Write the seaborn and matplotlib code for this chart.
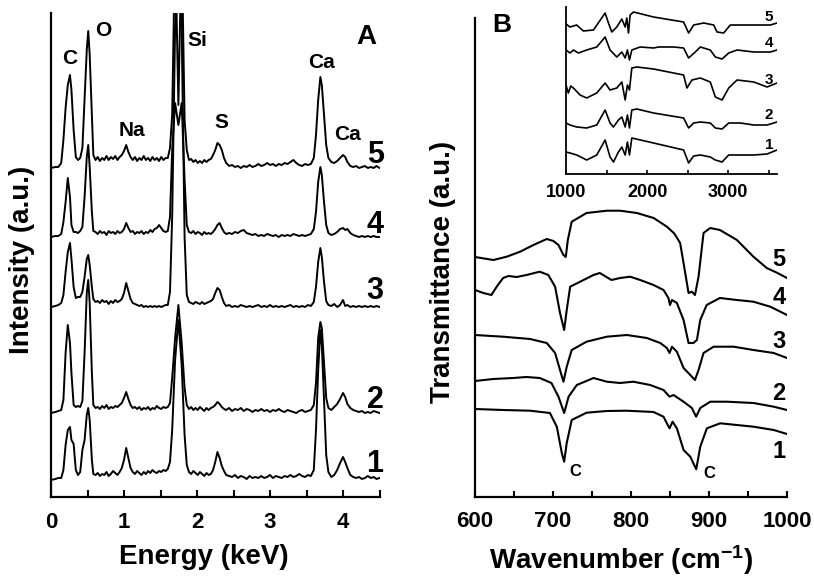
import matplotlib
matplotlib.use("Agg")
import matplotlib.pyplot as plt
from matplotlib.ticker import FixedLocator, MultipleLocator
import numpy as np
import pandas as pd
import seaborn as sns

# ---------------- Panel A : EDS spectra ----------------
ENERGY_KEV = [0.00, 0.06, 0.10, 0.14, 0.17, 0.20, 0.23, 0.26, 0.28, 0.31,
              0.34, 0.37, 0.40, 0.43, 0.46, 0.49, 0.51, 0.53, 0.56, 0.58,
              0.61, 0.64, 0.67, 0.70, 0.73, 0.76, 0.79, 0.82, 0.85, 0.88,
              0.91, 0.94, 0.97, 1.00, 1.03, 1.06, 1.09, 1.12, 1.15, 1.18,
              1.21, 1.24, 1.27, 1.30, 1.33, 1.36, 1.39, 1.42, 1.45, 1.48,
              1.51, 1.54, 1.57, 1.60, 1.63, 1.66, 1.70, 1.745, 1.79, 1.83,
              1.86, 1.89, 1.92, 1.95, 1.98, 2.01, 2.04, 2.07, 2.10, 2.13,
              2.16, 2.19, 2.22, 2.25, 2.28, 2.31, 2.34, 2.37, 2.40, 2.44,
              2.48, 2.52, 2.56, 2.60, 2.64, 2.68, 2.72, 2.76, 2.80, 2.84,
              2.88, 2.92, 2.96, 3.00, 3.04, 3.08, 3.12, 3.16, 3.20, 3.24,
              3.28, 3.32, 3.36, 3.40, 3.44, 3.48, 3.52, 3.56, 3.60, 3.63,
              3.66, 3.69, 3.71, 3.74, 3.77, 3.80, 3.84, 3.88, 3.92, 3.96,
              4.00, 4.03, 4.06, 4.10, 4.14, 4.18, 4.22, 4.26, 4.30, 4.34,
              4.38, 4.42, 4.46, 4.50]

EDS_1 = [0, 1, 2, 2, 10, 35, 50, 53, 40, 36,
         10, 5, 8, 30, 40, 65, 72, 60, 20, 6,
         5, 7, 4, 6, 5, 8, 4, 6, 9, 7,
         5, 8, 12, 20, 32, 22, 12, 8, 6, 9,
         7, 5, 8, 6, 9, 7, 10, 8, 7, 9,
         8, 10, 9, 11, 18, 50, 120, 160, 115, 45,
         15, 8, 6, 9, 7, 5, 8, 6, 4, 7,
         5, 6, 10, 18, 28, 22, 14, 9, 5, 4,
         3, 5, 2, 4, 3, 1, 4, 2, 3, 2,
         4, 2, 3, 5, 2, 4, 3, 2, 4, 3,
         5, 3, 4, 6, 4, 3, 5, 4, 10, 50,
         110, 150, 135, 80, 25, 8, 3, 5, 10, 17,
         23, 18, 12, 5, 3, 2, 3, 1, 2, 4,
         2, 3, 1, 2]

EDS_2 = [0, 1, 2, 3, 13, 60, 88, 70, 40, 8,
         6, 7, 6, 12, 60, 120, 133, 110, 40, 8,
         5, 6, 4, 7, 5, 8, 4, 6, 5, 7,
         6, 8, 10, 15, 21, 14, 8, 5, 6, 4,
         6, 3, 5, 4, 6, 3, 5, 4, 7, 5,
         4, 6, 5, 6, 10, 35, 75, 108, 70, 25,
         8, 4, 6, 3, 5, 3, 6, 4, 2, 5,
         3, 5, 6, 8, 11, 9, 6, 4, 3, 5,
         2, 4, 3, 5, 2, 4, 3, 1, 3, 2,
         4, 2, 3, 1, 3, 2, 4, 2, 1, 3,
         2, 1, 0, 2, 3, 1, 2, 3, 8, 30,
         75, 91, 85, 50, 15, 5, 3, 6, 9, 14,
         20, 16, 9, 5, 3, 2, 1, 2, 0, 1,
         0, 2, 1, 0]

EDS_3 = [0, 1, 2, 4, 12, 35, 55, 64, 48, 20,
         9, 10, 10, 15, 30, 48, 52, 42, 20, 8,
         5, 6, 4, 7, 5, 6, 3, 6, 4, 7,
         5, 6, 8, 14, 24, 16, 8, 4, 3, 2,
         1, 2, 0, 1, 0, 1, 0, 1, 0, 1,
         0, 1, 2, 2, 15, 90, 280, 340, 280, 70,
         12, 5, 4, 3, 5, 4, 3, 5, 3, 4,
         5, 6, 8, 14, 19, 17, 10, 4, 1, 2,
         0, 1, 0, 2, 1, 0, 1, 0, 1, 2,
         0, 1, 0, 2, 0, 1, 0, 1, 0, 1,
         2, 0, 1, 0, 1, 0, 2, 1, 5, 20,
         45, 59, 50, 25, 6, 2, 1, 3, 0, 2,
         7, 1, 2, 0, 1, 0, 1, 0, 1, 0,
         1, 0, 1, 0]

EDS_4 = [0, 1, 1, 3, 15, 35, 59, 40, 12, 5,
         5, 4, 6, 10, 40, 80, 92, 70, 25, 6,
         5, 3, 6, 4, 5, 2, 6, 4, 5, 3,
         6, 4, 5, 8, 14, 9, 5, 6, 3, 5,
         4, 6, 3, 5, 4, 7, 5, 8, 9, 12,
         9, 6, 5, 6, 20, 87, 134, 112, 134, 57,
         12, 5, 4, 6, 3, 5, 4, 2, 5, 3,
         4, 3, 5, 8, 12, 14, 9, 5, 3, 4,
         3, 5, 4, 6, 7, 4, 3, 2, 3, 1,
         2, 1, 3, 2, 1, 2, 0, 2, 1, 2,
         1, 3, 2, 1, 2, 1, 2, 3, 8, 25,
         55, 70, 62, 35, 12, 4, 2, 3, 5, 8,
         9, 7, 8, 4, 2, 1, 0, 1, 0, 1,
         0, 1, 0, 0]

EDS_5 = [0, 1, 1, 5, 28, 60, 83, 93, 78, 38,
         11, 8, 10, 20, 68, 118, 137, 113, 53, 13,
         8, 11, 7, 10, 8, 12, 8, 11, 9, 12,
         8, 11, 13, 17, 23, 16, 11, 8, 11, 7,
         10, 8, 12, 8, 10, 7, 11, 8, 10, 7,
         11, 8, 10, 10, 20, 53, 228, 63, 228, 48,
         18, 8, 9, 6, 8, 5, 7, 5, 8, 6,
         8, 9, 13, 18, 25, 23, 18, 10, 5, 2,
         3, 1, 2, 0, 2, 1, 3, 1, 2, 4,
         2, 3, 5, 3, 4, 2, 4, 3, 5, 4,
         6, 8, 5, 3, 2, 4, 3, 4, 10, 33,
         68, 91, 83, 53, 23, 10, 6, 5, 7, 10,
         13, 11, 6, 2, 1, 2, 0, 1, 2, 0,
         1, 0, 2, 0]

EDS_OFFSETS = [17, 84, 190, 260, 329]
SAMPLES = ["1", "2", "3", "4", "5"]
EDS_ELEMENTS = ["C", "O", "Na", "Si", "S", "Ca", "Ca"]
EDS_TICKS = [0, 1, 2, 3, 4]

# ---------------- Panel B : FTIR 600-1000 ----------------
B_WN1 = [600, 636, 670.6, 696, 704.9, 711.3, 714.3, 717.6, 724, 743, 769, 794.6, 828.9, 841.7,
         846, 849.4, 853.3, 858.8, 867.4, 876, 883.6, 888.8, 897.3, 914.4, 935.8, 957, 983, 1000]
B_T1 = [88, 87, 86.3, 84, 70.3, 44, 35.3, 54, 77, 84.3, 86, 86.3, 85, 80.3,
        73.7, 68.7, 75.3, 68.7, 47, 40.3, 27.7, 50.3, 68.7, 73.7, 72, 70.3, 67, 63]
B_WN2 = [600, 623.5, 649, 666, 683, 698, 707, 714.3, 720, 730.5, 752, 769, 786, 803, 824.6,
         841.7, 849.4, 854.5, 867.4, 878, 883.5, 888.8, 901.6, 923, 957, 983, 1000]
B_T2 = [116, 118, 119, 120, 119, 114, 100.3, 84, 100.3, 112, 119, 115.3, 114, 115.3, 112,
        107, 100.3, 102, 95.3, 89, 80.3, 89, 95.3, 95.3, 94, 90.3, 87]
B_WN3 = [600, 636, 670.6, 692, 702.7, 709, 713.4, 717.6, 724, 743, 769, 794.6, 820.3, 837.5,
         846, 849.4, 852.5, 858.8, 867.4, 876, 882, 886.6, 893, 905.9, 931.6, 957, 983, 1000]
B_T3 = [162, 160.3, 158, 154, 144, 127, 115.3, 130.3, 147, 155.3, 160.3, 162, 159, 154,
        149, 144, 150.3, 145.3, 129, 122, 117, 127, 144, 150.3, 150.3, 147, 144, 139]
B_WN4 = [600, 610.7, 621, 627.8, 636, 642.8, 653.5, 666, 683, 694, 702.7, 709, 714.3, 717.6,
         722, 734.8, 751.9, 760, 775, 786, 798.9, 811.8, 828.9, 841.7, 848, 850, 852.5, 858.8,
         867.4, 873.8, 880, 884.5, 888.8, 897, 914, 935.8, 957, 978.6, 1000]
B_T4 = [207, 204, 202, 210.3, 219, 221, 220, 222, 225.3, 222, 210.3, 184, 167, 187,
        210.3, 215.3, 222, 224, 217, 219, 220.3, 217, 212, 207, 199, 192, 197, 194,
        177, 154, 154, 157, 177, 192, 199, 197, 195.3, 190.3, 182]
B_WN5 = [600, 623.5, 640.6, 657.8, 674.9, 692, 700.5, 707, 713.4, 716.4, 719, 724, 743, 769,
         786, 807.5, 829, 846, 854.5, 856.7, 863, 869.5, 873.8, 878, 882, 886.6, 893, 901.6,
         914, 935.8, 957, 974, 987, 1000]
B_T5 = [240, 237, 240.3, 245.3, 252, 258, 256, 252, 242, 240, 257, 275.3, 284, 286.3,
        286.3, 284, 279, 270.3, 264.3, 262, 254, 224, 204, 205.3, 202, 220.3, 264, 269,
        267, 257, 240.3, 229, 224.3, 219]
B_TICKS = [600, 700, 800, 900, 1000]

# ---------------- Inset : FTIR 1000-3600 ----------------
INS_WN1 = [1000, 1049, 1132, 1255, 1379, 1482, 1543, 1585, 1646, 1688, 1729, 1757, 1782, 1811,
           2079, 2449, 2511, 2573, 2655, 2778, 2840, 2923, 3005, 3149, 3314, 3478, 3600]
INS_T1 = [22, 21, 19, 14, 19, 34, 17, 12, 22, 27, 19, 32, 19, 36,
          31, 24, 11, 18, 19, 17, 14, 12, 19, 19, 19, 20, 24]
INS_WN2 = [1000, 1049, 1132, 1255, 1379, 1482, 1543, 1585, 1646, 1688, 1729, 1757, 1782, 1811,
           1873, 2079, 2449, 2511, 2573, 2655, 2778, 2840, 2923, 3005, 3149, 3314, 3478, 3600]
INS_T2 = [51, 49, 47, 46, 49, 64, 51, 47, 54, 57, 47, 59, 46, 64,
          65, 61, 56, 46, 51, 52, 51, 46, 45, 51, 51, 49, 49, 52]
INS_WN3 = [1000, 1029, 1058, 1091, 1173, 1255, 1379, 1482, 1543, 1626, 1688, 1729, 1757, 1782,
           1811, 1873, 2079, 2449, 2490, 2552, 2655, 2778, 2840, 2923, 3005, 3108, 3314, 3478, 3600]
INS_T3 = [89, 81, 88, 86, 79, 76, 81, 91, 84, 86, 92, 74, 89, 84,
          106, 107, 105, 99, 86, 94, 96, 92, 77, 74, 86, 94, 92, 87, 91]
INS_WN4 = [1000, 1049, 1091, 1152, 1255, 1379, 1482, 1543, 1626, 1688, 1729, 1757, 1782, 1811,
           1914, 2079, 2140, 2326, 2449, 2511, 2593, 2655, 2778, 2840, 2923, 3005, 3108, 3314, 3519, 3600]
INS_T4 = [124, 121, 124, 121, 124, 127, 137, 124, 117, 122, 116, 124, 114, 124,
          127, 126, 127, 127, 126, 116, 122, 127, 124, 117, 115, 121, 124, 122, 122, 124]
INS_WN5 = [1000, 1049, 1132, 1214, 1338, 1440, 1482, 1523, 1564, 1626, 1688, 1729, 1749, 1770,
           1790, 1832, 2079, 2449, 2511, 2573, 2696, 2820, 2861, 2943, 3025, 3314, 3519, 3600]
INS_T5 = [150, 147, 149, 143, 144, 156, 161, 151, 142, 147, 155, 147, 156, 141,
          159, 162, 157, 152, 141, 149, 151, 149, 142, 141, 149, 149, 149, 151]
INS_TICKS = [1000, 2000, 3000]

# ---------------- tables ----------------
eds_rows = []
for name, vals, off in zip(SAMPLES, [EDS_1, EDS_2, EDS_3, EDS_4, EDS_5], EDS_OFFSETS):
    for e, v in zip(ENERGY_KEV, vals):
        eds_rows.append({"sample": name, "energy": e, "intensity": v + off})
eds_df = pd.DataFrame(eds_rows)

def long_table(wns, ts):
    rows = []
    for name, w, t in zip(SAMPLES, wns, ts):
        for a, b in zip(w, t):
            rows.append({"sample": name, "wn": a, "T": b})
    return pd.DataFrame(rows)

ftir_df = long_table([B_WN1, B_WN2, B_WN3, B_WN4, B_WN5], [B_T1, B_T2, B_T3, B_T4, B_T5])
ins_df = long_table([INS_WN1, INS_WN2, INS_WN3, INS_WN4, INS_WN5],
                    [INS_T1, INS_T2, INS_T3, INS_T4, INS_T5])

# ---------------- style ----------------
sns.set_style("ticks")
plt.rcParams["font.family"] = ["Liberation Sans", "DejaVu Sans"]
plt.rcParams["font.weight"] = "bold"
plt.rcParams["axes.labelweight"] = "bold"
plt.rcParams["mathtext.default"] = "regular"
plt.rcParams["axes.linewidth"] = 1.6
for key in ["text.color", "axes.labelcolor", "xtick.color", "ytick.color", "axes.edgecolor"]:
    plt.rcParams[key] = "black"

W, H = 814, 576
fig = plt.figure(figsize=(W / 100, H / 100), dpi=100)

def box(l, r, b, t):
    return [l / W, 1 - b / H, (r - l) / W, (b - t) / H]

axA = fig.add_axes(box(51, 379.5, 497, 13))
axB = fig.add_axes(box(475, 787, 497, 18))
axI = fig.add_axes(box(566, 777, 174, 7))
pal = ["black"] * 5

# Panel A
sns.lineplot(data=eds_df, x="energy", y="intensity", hue="sample", palette=pal,
             estimator=None, sort=False, legend=False, lw=1.4, ax=axA)
axA.set_xlim(0, 4.5)
axA.set_ylim(0, 484)
axA.set_yticks([])
axA.xaxis.set_major_locator(FixedLocator(EDS_TICKS))
axA.xaxis.set_minor_locator(MultipleLocator(0.5))
axA.set_xticklabels([str(t) for t in EDS_TICKS])
axA.tick_params(axis="x", which="both", direction="in", length=5, width=1.5,
                labelsize=16, pad=11)
axA.set_xlabel("Energy (keV)", fontsize=20, va="center")
axA.set_ylabel("Intensity (a.u.)", fontsize=20, va="center")
axA.xaxis.set_label_coords((204 - 51) / 328.5, (497 - 557) / 484)
axA.yaxis.set_label_coords((22 - 51) / 328.5, (497 - 260) / 484)

el_pos = [(0.26, 439), (0.71, 467), (1.11, 367), (2.01, 457), (2.33, 374), (3.71, 435), (4.06, 363)]
for lab, (x, y) in zip(EDS_ELEMENTS, el_pos):
    axA.text(x, y, lab, fontsize=15, ha="center", va="center")
axA.text(4.32, 460, "A", fontsize=20, ha="center", va="center")
for lab, y in zip(SAMPLES, [33, 97, 206, 272, 342]):
    axA.text(4.44, y, lab, fontsize=22, ha="center", va="center")

# Panel B
sns.lineplot(data=ftir_df, x="wn", y="T", hue="sample", palette=pal,
             estimator=None, sort=False, legend=False, lw=1.5, ax=axB)
axB.set_xlim(600, 1000)
axB.set_ylim(0, 479)
axB.set_yticks([])
axB.xaxis.set_major_locator(FixedLocator(B_TICKS))
axB.xaxis.set_minor_locator(MultipleLocator(50))
axB.set_xticklabels([str(t) for t in B_TICKS])
axB.tick_params(axis="x", which="both", direction="in", length=4, width=1.5,
                labelsize=16, pad=10)
axB.set_xlabel("Wavenumber (cm$^{-1}$)", fontsize=20, va="center")
axB.set_ylabel("Transmittance (a.u.)", fontsize=20, va="center")
axB.xaxis.set_label_coords((621 - 475) / 312, (497 - 560) / 479)
axB.yaxis.set_label_coords((443 - 475) / 312, (497 - 272) / 479)
axB.text(634.6, 472, "B", fontsize=19, ha="center", va="center")
axB.text(728, 26, "C", fontsize=12, ha="center", va="center")
axB.text(901, 24, "C", fontsize=12, ha="center", va="center")
for lab, y in zip(SAMPLES, [45, 104, 155, 199, 238]):
    axB.text(990, y, lab, fontsize=17, ha="center", va="center")

# Inset
sns.lineplot(data=ins_df, x="wn", y="T", hue="sample", palette=pal,
             estimator=None, sort=False, legend=False, lw=1.2, ax=axI)
axI.set_xlim(1000, 3600)
axI.set_ylim(0, 167)
axI.set_yticks([])
axI.xaxis.set_major_locator(FixedLocator(INS_TICKS))
axI.xaxis.set_minor_locator(MultipleLocator(500))
axI.set_xticklabels([str(t) for t in INS_TICKS])
axI.tick_params(axis="x", which="both", direction="in", length=3, width=1.2,
                labelsize=13, pad=7)
axI.set_xlabel("")
axI.set_ylabel("")
axI.patch.set_alpha(0)
for lab, y in zip(SAMPLES, [29, 59, 94, 131, 157]):
    axI.text(3500, y, lab, fontsize=11, ha="center", va="center")

for ax in (axA, axB, axI):
    sns.despine(ax=ax)
axI.spines["left"].set_linewidth(1.3)
axI.spines["bottom"].set_linewidth(1.3)

fig.savefig("out.png", dpi=100)
